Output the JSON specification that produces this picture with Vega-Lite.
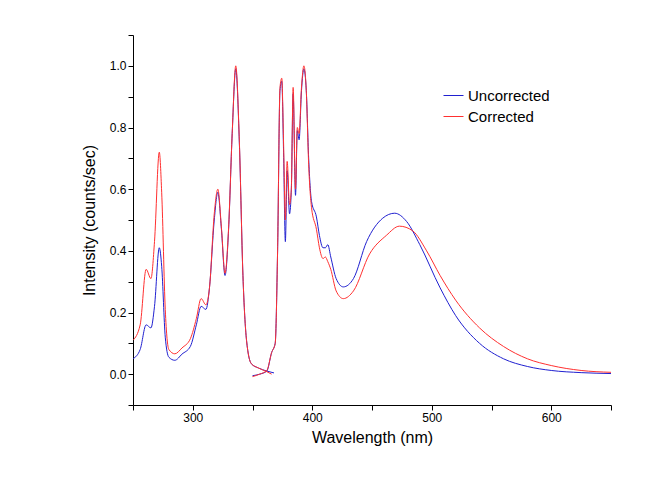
{
"$schema":"https://vega.github.io/schema/vega-lite/v6.json",
"width":478,"height":370,"autosize":{"type":"none"},
"padding":{"left":133,"top":35,"right":41,"bottom":88},
"background":"white",
"config":{"view":{"stroke":null},"font":"Liberation Sans"},
"data":{"values":[
{"s":"Uncorrected","g":"U1","x":250,"y":0.05},{"s":"Uncorrected","g":"U1","x":256,"y":0.08},{"s":"Uncorrected","g":"U1","x":261,"y":0.16},{"s":"Uncorrected","g":"U1","x":265,"y":0.15},{"s":"Uncorrected","g":"U1","x":268,"y":0.22},{"s":"Uncorrected","g":"U1","x":272,"y":0.41},{"s":"Uncorrected","g":"U1","x":274,"y":0.35},{"s":"Uncorrected","g":"U1","x":277,"y":0.12},{"s":"Uncorrected","g":"U1","x":280,"y":0.055},{"s":"Uncorrected","g":"U1","x":285,"y":0.045},{"s":"Uncorrected","g":"U1","x":291,"y":0.065},{"s":"Uncorrected","g":"U1","x":298,"y":0.09},{"s":"Uncorrected","g":"U1","x":303,"y":0.16},{"s":"Uncorrected","g":"U1","x":307,"y":0.22},{"s":"Uncorrected","g":"U1","x":311,"y":0.21},{"s":"Uncorrected","g":"U1","x":314,"y":0.28},{"s":"Uncorrected","g":"U1","x":318,"y":0.5},{"s":"Uncorrected","g":"U1","x":321,"y":0.59},{"s":"Uncorrected","g":"U1","x":324,"y":0.47},{"s":"Uncorrected","g":"U1","x":327,"y":0.32},{"s":"Uncorrected","g":"U1","x":330,"y":0.47},{"s":"Uncorrected","g":"U1","x":333,"y":0.78},{"s":"Uncorrected","g":"U1","x":336,"y":0.99},{"s":"Uncorrected","g":"U1","x":339,"y":0.75},{"s":"Uncorrected","g":"U1","x":342,"y":0.32},{"s":"Uncorrected","g":"U1","x":345,"y":0.11},{"s":"Uncorrected","g":"U1","x":349,"y":0.034},{"s":"Uncorrected","g":"U1","x":355,"y":0.02},{"s":"Uncorrected","g":"U1","x":362,"y":0.01},{"s":"Uncorrected","g":"U1","x":368,"y":0.004},
{"s":"Uncorrected","g":"U2","x":350,"y":-0.005},{"s":"Uncorrected","g":"U2","x":356,"y":0.0},{"s":"Uncorrected","g":"U2","x":362,"y":0.01},{"s":"Uncorrected","g":"U2","x":366,"y":0.07},{"s":"Uncorrected","g":"U2","x":369,"y":0.1},{"s":"Uncorrected","g":"U2","x":371,"y":0.4},{"s":"Uncorrected","g":"U2","x":373,"y":0.92},{"s":"Uncorrected","g":"U2","x":374.5,"y":0.95},{"s":"Uncorrected","g":"U2","x":376,"y":0.72},{"s":"Uncorrected","g":"U2","x":377.5,"y":0.43},{"s":"Uncorrected","g":"U2","x":379,"y":0.66},{"s":"Uncorrected","g":"U2","x":381,"y":0.52},{"s":"Uncorrected","g":"U2","x":382.5,"y":0.6},{"s":"Uncorrected","g":"U2","x":384,"y":0.91},{"s":"Uncorrected","g":"U2","x":386,"y":0.58},{"s":"Uncorrected","g":"U2","x":387.5,"y":0.79},{"s":"Uncorrected","g":"U2","x":389,"y":0.76},{"s":"Uncorrected","g":"U2","x":391,"y":0.92},{"s":"Uncorrected","g":"U2","x":393,"y":0.99},{"s":"Uncorrected","g":"U2","x":395,"y":0.92},{"s":"Uncorrected","g":"U2","x":397,"y":0.7},{"s":"Uncorrected","g":"U2","x":399.4,"y":0.56},{"s":"Uncorrected","g":"U2","x":403.5,"y":0.51},{"s":"Uncorrected","g":"U2","x":406,"y":0.45},{"s":"Uncorrected","g":"U2","x":409,"y":0.41},{"s":"Uncorrected","g":"U2","x":411,"y":0.41},{"s":"Uncorrected","g":"U2","x":413,"y":0.42},{"s":"Uncorrected","g":"U2","x":415.5,"y":0.38},{"s":"Uncorrected","g":"U2","x":420,"y":0.31},{"s":"Uncorrected","g":"U2","x":426,"y":0.283},{"s":"Uncorrected","g":"U2","x":434.5,"y":0.31},{"s":"Uncorrected","g":"U2","x":445.5,"y":0.43},{"s":"Uncorrected","g":"U2","x":459,"y":0.506},{"s":"Uncorrected","g":"U2","x":469,"y":0.522},{"s":"Uncorrected","g":"U2","x":479,"y":0.495},{"s":"Uncorrected","g":"U2","x":490,"y":0.42},{"s":"Uncorrected","g":"U2","x":507,"y":0.28},{"s":"Uncorrected","g":"U2","x":520,"y":0.19},{"s":"Uncorrected","g":"U2","x":540,"y":0.1},{"s":"Uncorrected","g":"U2","x":560,"y":0.05},{"s":"Uncorrected","g":"U2","x":580,"y":0.025},{"s":"Uncorrected","g":"U2","x":600,"y":0.012},{"s":"Uncorrected","g":"U2","x":625,"y":0.005},{"s":"Uncorrected","g":"U2","x":650,"y":0.002},
{"s":"Corrected","g":"C1","x":250,"y":0.11},{"s":"Corrected","g":"C1","x":256,"y":0.16},{"s":"Corrected","g":"C1","x":261,"y":0.34},{"s":"Corrected","g":"C1","x":265,"y":0.31},{"s":"Corrected","g":"C1","x":268,"y":0.43},{"s":"Corrected","g":"C1","x":272,"y":0.72},{"s":"Corrected","g":"C1","x":274,"y":0.59},{"s":"Corrected","g":"C1","x":277,"y":0.21},{"s":"Corrected","g":"C1","x":280,"y":0.08},{"s":"Corrected","g":"C1","x":285,"y":0.066},{"s":"Corrected","g":"C1","x":291,"y":0.085},{"s":"Corrected","g":"C1","x":298,"y":0.115},{"s":"Corrected","g":"C1","x":303,"y":0.18},{"s":"Corrected","g":"C1","x":307,"y":0.245},{"s":"Corrected","g":"C1","x":311,"y":0.225},{"s":"Corrected","g":"C1","x":314,"y":0.28},{"s":"Corrected","g":"C1","x":318,"y":0.52},{"s":"Corrected","g":"C1","x":321,"y":0.6},{"s":"Corrected","g":"C1","x":324,"y":0.475},{"s":"Corrected","g":"C1","x":327,"y":0.327},{"s":"Corrected","g":"C1","x":330,"y":0.475},{"s":"Corrected","g":"C1","x":333,"y":0.78},{"s":"Corrected","g":"C1","x":336,"y":1.0},{"s":"Corrected","g":"C1","x":339,"y":0.755},{"s":"Corrected","g":"C1","x":342,"y":0.32},{"s":"Corrected","g":"C1","x":345,"y":0.11},{"s":"Corrected","g":"C1","x":349,"y":0.034},{"s":"Corrected","g":"C1","x":355,"y":0.02},{"s":"Corrected","g":"C1","x":362,"y":0.008},{"s":"Corrected","g":"C1","x":366,"y":0.0},
{"s":"Corrected","g":"C2","x":350,"y":-0.008},{"s":"Corrected","g":"C2","x":356,"y":0.0},{"s":"Corrected","g":"C2","x":362,"y":0.012},{"s":"Corrected","g":"C2","x":366,"y":0.07},{"s":"Corrected","g":"C2","x":369,"y":0.1},{"s":"Corrected","g":"C2","x":371,"y":0.4},{"s":"Corrected","g":"C2","x":373,"y":0.93},{"s":"Corrected","g":"C2","x":374.5,"y":0.96},{"s":"Corrected","g":"C2","x":376,"y":0.75},{"s":"Corrected","g":"C2","x":377.5,"y":0.5},{"s":"Corrected","g":"C2","x":379,"y":0.69},{"s":"Corrected","g":"C2","x":381,"y":0.55},{"s":"Corrected","g":"C2","x":382.5,"y":0.6},{"s":"Corrected","g":"C2","x":384,"y":0.93},{"s":"Corrected","g":"C2","x":386,"y":0.6},{"s":"Corrected","g":"C2","x":387.5,"y":0.8},{"s":"Corrected","g":"C2","x":389,"y":0.78},{"s":"Corrected","g":"C2","x":391,"y":0.93},{"s":"Corrected","g":"C2","x":393,"y":1.0},{"s":"Corrected","g":"C2","x":395,"y":0.92},{"s":"Corrected","g":"C2","x":397,"y":0.68},{"s":"Corrected","g":"C2","x":399.4,"y":0.54},{"s":"Corrected","g":"C2","x":403.5,"y":0.47},{"s":"Corrected","g":"C2","x":406,"y":0.41},{"s":"Corrected","g":"C2","x":409,"y":0.375},{"s":"Corrected","g":"C2","x":411,"y":0.38},{"s":"Corrected","g":"C2","x":413,"y":0.365},{"s":"Corrected","g":"C2","x":415.5,"y":0.34},{"s":"Corrected","g":"C2","x":420,"y":0.27},{"s":"Corrected","g":"C2","x":426,"y":0.245},{"s":"Corrected","g":"C2","x":434.5,"y":0.27},{"s":"Corrected","g":"C2","x":448,"y":0.39},{"s":"Corrected","g":"C2","x":462,"y":0.45},{"s":"Corrected","g":"C2","x":473,"y":0.48},{"s":"Corrected","g":"C2","x":484,"y":0.465},{"s":"Corrected","g":"C2","x":495.7,"y":0.4},{"s":"Corrected","g":"C2","x":507,"y":0.32},{"s":"Corrected","g":"C2","x":520,"y":0.24},{"s":"Corrected","g":"C2","x":540,"y":0.15},{"s":"Corrected","g":"C2","x":560,"y":0.09},{"s":"Corrected","g":"C2","x":580,"y":0.05},{"s":"Corrected","g":"C2","x":600,"y":0.028},{"s":"Corrected","g":"C2","x":625,"y":0.012},{"s":"Corrected","g":"C2","x":650,"y":0.006}
]},
"mark":{"type":"line","strokeWidth":1,"interpolate":"monotone","clip":true},
"encoding":{
"x":{"field":"x","type":"quantitative","scale":{"domain":[250,650],"nice":false},"title":"Wavelength (nm)",
"axis":{"values":[250,300,350,400,450,500,550,600,650],"labelExpr":"datum.value%100==0 ? datum.value : ''","grid":false,"domainColor":"black","tickColor":"black","labelColor":"black","labelFontSize":12,"titleFontSize":16,"titleFontWeight":"normal","titleColor":"black","titlePadding":6}},
"y":{"field":"y","type":"quantitative","scale":{"domain":[-0.1,1.1],"nice":false},"title":"Intensity (counts/sec)",
"axis":{"values":[-0.1,0,0.1,0.2,0.3,0.4,0.5,0.6,0.7,0.8,0.9,1.0,1.1],"labelExpr":"(round(datum.value*10)%2==0 && datum.value>-0.05 && datum.value<1.05) ? format(datum.value,'.1f') : ''","grid":false,"domainColor":"black","tickColor":"black","labelColor":"black","labelFontSize":12,"titleFontSize":16,"titleFontWeight":"normal","titleColor":"black","titlePadding":12}},
"color":{"field":"s","type":"nominal","scale":{"domain":["Uncorrected","Corrected"],"range":["#2020d0","#ff3030"]},
"legend":{"title":null,"orient":"none","legendX":310,"legendY":50,"symbolType":"stroke","symbolStrokeWidth":1,"symbolSize":400,"labelFontSize":15,"labelColor":"black","rowPadding":2}},
"detail":{"field":"g"},
"order":{"field":"x","type":"quantitative"}
}
}
